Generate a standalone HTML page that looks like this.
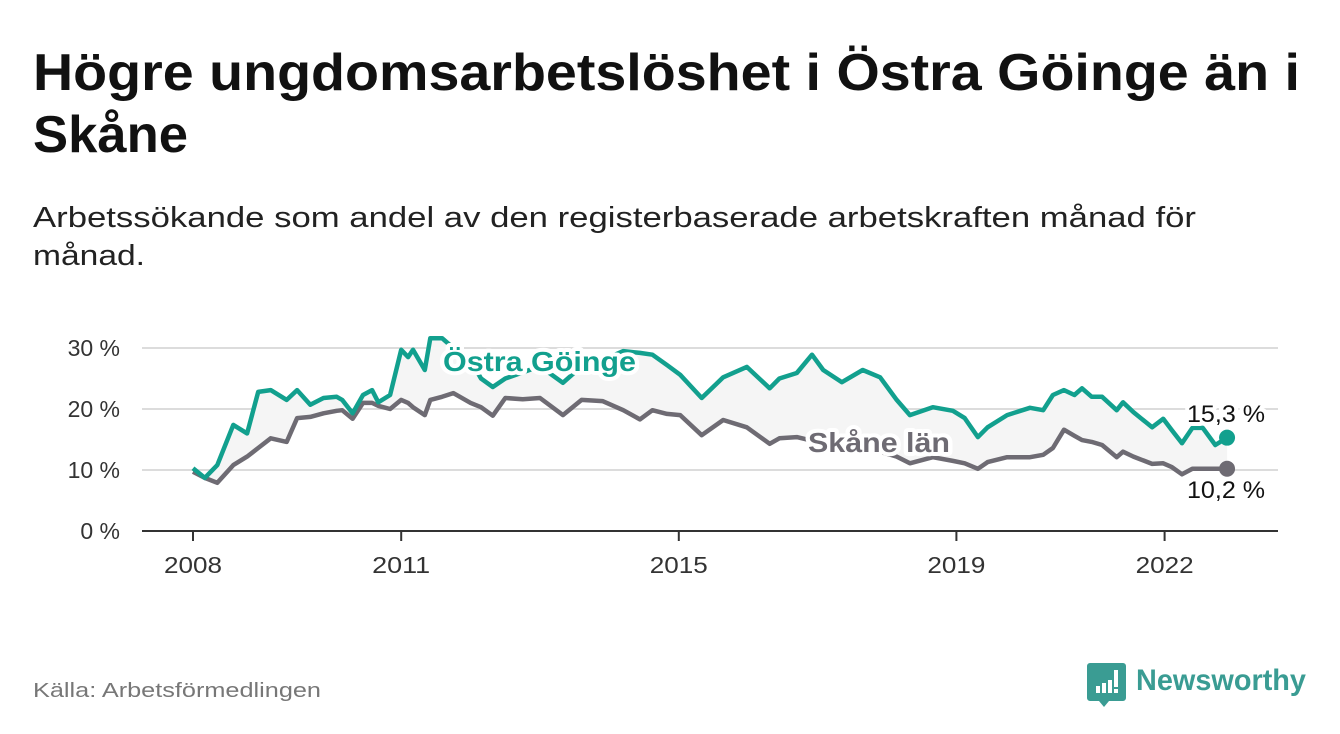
<!DOCTYPE html>
<html><head><meta charset="utf-8"><style>
html,body{margin:0;padding:0;background:#fff;}
svg{display:block;font-family:"Liberation Sans",sans-serif;}
</style></head><body>
<svg id="chart" width="1340" height="734" viewBox="0 0 1340 734">
<text x="33" y="90" font-size="52" font-weight="bold" fill="#111" textLength="1267" lengthAdjust="spacingAndGlyphs">Högre ungdomsarbetslöshet i Östra Göinge än i</text>
<text x="33" y="152" font-size="52" font-weight="bold" fill="#111" textLength="155" lengthAdjust="spacingAndGlyphs">Skåne</text>
<text x="33" y="227" font-size="29" fill="#222" textLength="1163" lengthAdjust="spacingAndGlyphs">Arbetssökande som andel av den registerbaserade arbetskraften månad för</text>
<text x="33" y="265" font-size="29" fill="#222" textLength="112" lengthAdjust="spacingAndGlyphs">månad.</text>
<g id="grid"></g>
<g id="plot"></g>
<g id="labels"></g>
<text x="33" y="697" font-size="20" fill="#777" textLength="288" lengthAdjust="spacingAndGlyphs">Källa: Arbetsförmedlingen</text>
<g>
<path d="M1090 663 h33 a3 3 0 0 1 3 3 v32 a3 3 0 0 1 -3 3 h-14 l-5 6 l-5 -6 h-9 a3 3 0 0 1 -3 -3 v-32 a3 3 0 0 1 3 -3z" fill="#3a9c93"/>
<rect x="1096" y="686" width="4" height="7" fill="#fff"/><rect x="1102" y="683" width="4" height="10" fill="#fff"/><rect x="1108" y="680" width="4" height="13" fill="#fff"/><rect x="1114" y="670" width="4" height="17" fill="#fff"/><rect x="1114" y="689" width="4" height="4" fill="#fff"/>
<text x="1136" y="690" font-size="30" font-weight="bold" fill="#3a9c93" textLength="170" lengthAdjust="spacingAndGlyphs">Newsworthy</text>
</g>
</svg>
<script>
const dates=[2008.0,2008.17,2008.35,2008.58,2008.78,2008.94,2009.12,2009.35,2009.5,2009.69,2009.88,2010.07,2010.15,2010.3,2010.45,2010.58,2010.67,2010.84,2011.0,2011.1,2011.17,2011.34,2011.42,2011.59,2011.75,2012.0,2012.15,2012.32,2012.5,2012.75,2013.0,2013.33,2013.6,2013.9,2014.2,2014.44,2014.62,2014.83,2015.02,2015.33,2015.64,2015.98,2016.31,2016.45,2016.7,2016.92,2017.08,2017.35,2017.65,2017.9,2018.14,2018.33,2018.66,2018.95,2019.12,2019.31,2019.45,2019.73,2020.06,2020.25,2020.39,2020.55,2020.7,2020.81,2020.95,2021.1,2021.31,2021.4,2021.55,2021.82,2021.98,2022.1,2022.25,2022.4,2022.55,2022.73,2022.9];
const ostraGoinge=[10.3,8.7,10.8,17.4,16,22.8,23.1,21.5,23.1,20.7,21.8,22,21.5,19.3,22.3,23.1,21.1,22.3,29.7,28.5,29.7,26.4,31.6,31.6,30,28,25,23.6,25,26,27,24.3,27,28,29.5,29.2,28.9,27.2,25.6,21.8,25.2,26.9,23.4,25,25.9,28.9,26.4,24.4,26.4,25.2,21.5,19,20.3,19.7,18.5,15.4,17,19,20.2,19.8,22.3,23.1,22.3,23.4,22,22,19.8,21.1,19.5,17,18.4,16.6,14.4,16.9,16.9,14.1,15.3];
const skaneLan=[9.7,8.7,7.9,10.8,12.2,13.6,15.2,14.6,18.5,18.7,19.3,19.7,19.8,18.4,21,21,20.5,20,21.5,21,20.3,19,21.5,22,22.6,21,20.3,18.9,21.8,21.6,21.8,19,21.5,21.3,19.8,18.3,19.8,19.2,19,15.7,18.2,17,14.3,15.2,15.4,14.8,14.4,14,13.6,13,12.2,11.1,12.1,11.5,11.1,10.2,11.3,12.1,12.1,12.5,13.6,16.6,15.6,14.9,14.6,14.1,12.1,13,12.2,11,11.1,10.5,9.3,10.2,10.2,10.2,10.2];
const yTicks=[0,10,20,30];
const yTickLabels=["0 %","10 %","20 %","30 %"];
const xTicks=[2008,2011,2015,2019,2022];
const xTickLabels=["2008","2011","2015","2019","2022"];

const NS="http://www.w3.org/2000/svg";
const X0=193,PXY=69.4,Y0=531,PXV=6.1;
function xs(d){return X0+(d-2008)*PXY;}
function ys(v){return Y0-v*PXV;}
function mk(tag,attrs,parent){const e=document.createElementNS(NS,tag);for(const k in attrs)e.setAttribute(k,attrs[k]);parent.appendChild(e);return e;}
const grid=document.getElementById('grid'),plot=document.getElementById('plot'),labels=document.getElementById('labels');

yTicks.forEach((t,i)=>{
  if(t>0){const l=mk('line',{x1:142,x2:1278,y1:ys(t),y2:ys(t),stroke:'#dcdcdc','stroke-width':2},grid);
  
  }
  const tx=mk('text',{x:120,y:ys(t)+8,'font-size':23,'text-anchor':'end',fill:'#333'},grid);
  tx.textContent=yTickLabels[i];
  
  
});
const ax=mk('line',{x1:142,x2:1278,y1:Y0,y2:Y0,stroke:'#333','stroke-width':2},grid);


xTicks.forEach((t,i)=>{
  const tk=mk('line',{x1:xs(t),x2:xs(t),y1:Y0,y2:Y0+10,stroke:'#333','stroke-width':2},grid);
  
  
  const tx=mk('text',{x:xs(t),y:573,'font-size':23,'text-anchor':'middle',fill:'#333',textLength:58,lengthAdjust:'spacingAndGlyphs'},grid);
  tx.textContent=xTickLabels[i];
  
  
});

const ptsA=dates.map((d,i)=>xs(d).toFixed(1)+','+ys(ostraGoinge[i]).toFixed(1));
const ptsB=dates.map((d,i)=>xs(d).toFixed(1)+','+ys(skaneLan[i]).toFixed(1));
const area=mk('polygon',{points:ptsA.concat(ptsB.slice().reverse()).join(' '),fill:'#f5f5f5'},plot);


const lb=mk('polyline',{points:ptsB.join(' '),fill:'none',stroke:'#6e6b73','stroke-width':4.5,'stroke-linejoin':'round'},plot);


const la=mk('polyline',{points:ptsA.join(' '),fill:'none',stroke:'#12a08e','stroke-width':4.5,'stroke-linejoin':'round'},plot);


const n=dates.length-1;
const da=mk('circle',{cx:xs(dates[n]),cy:ys(ostraGoinge[n]),r:8,fill:'#12a08e'},plot);


const db=mk('circle',{cx:xs(dates[n]),cy:ys(skaneLan[n]),r:8,fill:'#6e6b73'},plot);



function lbl(txt,x,y,color,name,bold,size,halo,len){
  const t=mk('text',{x:x,y:y,'font-size':size,fill:color,'font-weight':bold?'bold':'normal',textLength:len,lengthAdjust:'spacingAndGlyphs'},labels);
  if(halo){t.setAttribute('stroke','#fff');t.setAttribute('stroke-width',8);t.setAttribute('paint-order','stroke');t.setAttribute('stroke-linejoin','round');}
  t.textContent=txt;
  
  
}
lbl('Östra Göinge',443,371,'#12a08e','ostra-goinge-label',true,28,true,193);
lbl('Skåne län',808,452,'#6e6b73','skane-lan-label',true,28,true,142);
lbl(String(ostraGoinge[n]).replace('.',',')+' %',1187,422,'#111','ostra-goinge-value',false,24,true,78);
lbl(String(skaneLan[n]).replace('.',',')+' %',1187,498,'#111','skane-lan-value',false,24,true,78);
</script>
</body></html>
